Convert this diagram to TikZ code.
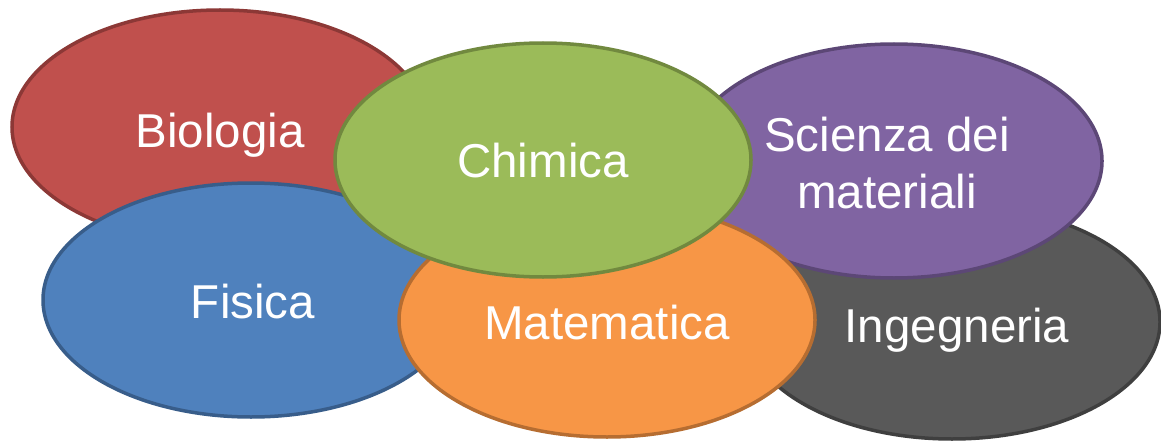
\documentclass[tikz,border=0pt]{standalone}
\usepackage{fontspec}
\setmainfont{Liberation Sans}
\usetikzlibrary{shapes.geometric}
\definecolor{redF}{HTML}{C0504D}\definecolor{redB}{HTML}{8C3836}
\definecolor{bluF}{HTML}{4F81BD}\definecolor{bluB}{HTML}{385D8A}
\definecolor{grnF}{HTML}{9BBB59}\definecolor{grnB}{HTML}{71893F}
\definecolor{purF}{HTML}{8064A2}\definecolor{purB}{HTML}{5C4776}
\definecolor{orgF}{HTML}{F79646}\definecolor{orgB}{HTML}{B66D31}
\definecolor{gryF}{HTML}{595959}\definecolor{gryB}{HTML}{3F3F3F}
\tikzset{
  blob/.style={ellipse, minimum width=416pt, minimum height=234pt, inner sep=0pt, line width=3.5pt},
  lbl/.style={text=white, font=\fontsize{47.5}{57}\selectfont, inner sep=0pt, anchor=base, align=center}
}
\begin{document}
\begin{tikzpicture}[x=1pt,y=1pt]
\useasboundingbox (0,0) rectangle (1161,-441);
\node[blob, fill=redF, draw=redB] (bio) at (220,-127) {};
\node[blob, fill=bluF, draw=bluB] (fis) at (251,-300) {};
\node[blob, fill=gryF, draw=gryB] (ing) at (952,-322) {};
\node[blob, fill=purF, draw=purB] (sci) at (894,-161) {};
\node[blob, fill=orgF, draw=orgB] (mat) at (607,-320) {};
\node[blob, fill=grnF, draw=grnB] (chi) at (543,-160) {};
\node[lbl] (biot) at (220,-147) {Biologia};
\node[lbl] (fist) at (253,-318) {Fisica};
\node[lbl] (chit) at (543,-177) {Chimica};
\node[lbl] (matt) at (607,-339) {Matematica};
\node[lbl] (ingt) at (957,-342) {Ingegneria};
\node[lbl] (scit1) at (887,-151) {Scienza dei};
\node[lbl] (scit2) at (887,-208) {materiali};
\end{tikzpicture}
\end{document}
